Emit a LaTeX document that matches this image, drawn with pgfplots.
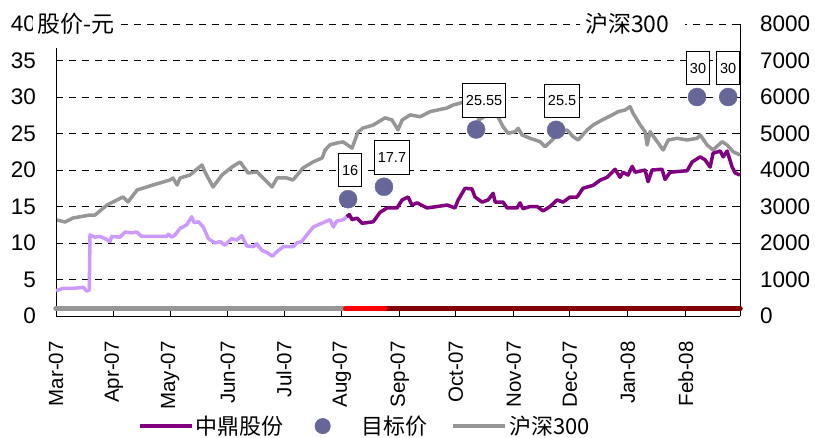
\documentclass[border=0pt]{standalone}
\usepackage{pgfplots}
\pgfplotsset{compat=1.18}
\usepackage{pgfplotstable}
\usepackage{fontspec}
\setmainfont{Liberation Sans}
\newfontfamily\cjk{Noto Sans CJK SC}
\definecolor{hsgray}{RGB}{150,150,150}
\definecolor{lpurple}{RGB}{204,153,255}
\definecolor{dpurple}{RGB}{128,0,128}
\definecolor{tgt}{RGB}{102,102,153}
\definecolor{dred}{RGB}{128,0,0}
\pgfplotsset{
  base/.style={scale only axis, width=684pt, height=292pt, at={(56pt,121pt)}, anchor=south west,
    xmin=0, xmax=366, clip=false, tick align=inside, major tick length=5pt,
    axis line style={-, line width=0.9pt, black}, tick style={line width=0.9pt, black},
    /pgf/number format/assume math mode=true, /pgf/number format/1000 sep={}, scaled y ticks=false},
  lineleg/.style={legend image code/.code={\draw[##1, line cap=butt] (0pt,0pt) -- (52pt,0pt);}},
}
\pgfplotstableread{
x y lab dx
156.3 16 16 2
175.5 17.7 17.7 8
224.8 25.55 25.55 8
267.6 25.5 25.5 6
343 30 30 1
359.7 30 30 0
}\targets
\begin{document}
\begin{tikzpicture}
\useasboundingbox (0,0) rectangle (815pt,437pt);
\begin{axis}[base, ymin=0, ymax=8000, hide x axis, axis y line*=right, ytick={0,1000,...,8000},
  ymajorgrids, grid style={black, line width=0.8pt, dash pattern=on 6.5pt off 6.5pt},
  yticklabel style={font=\fontsize{22.5}{26}\selectfont, inner sep=0pt, anchor=west}, yticklabel shift=20pt]
\addplot[hsgray, line width=3.5pt, line join=round] coordinates {
(0.5,2630) (4.8,2576) (9.1,2685) (18.2,2767) (20.9,2767) (27.3,3041) (35.9,3261) (38.5,3124)
(43.4,3452) (51.9,3589) (61,3726) (62.6,3781) (64.8,3589) (66.4,3781) (71.7,3863) (78.1,4137)
(79.7,3946) (84,3535) (88.8,3863) (92.1,4000) (94.2,4083) (98.5,4220) (102.8,3918) (107.6,3946)
(110.8,3781) (115.6,3535) (118.3,3781) (123.6,3781) (126.8,3726) (132.2,4055) (137.5,4220)
(142.4,4329) (144,4548) (146.6,4690) (150.4,4740) (153.6,4770) (158.4,4600) (161.6,5040) (164.3,5150)
(169.7,5230) (176.1,5430) (179.8,5370) (183,5100) (185.2,5370) (189.5,5510) (194.8,5460)
(200.2,5600) (209.3,5700) (212.5,5780) (218.9,5870) (222.6,5950) (225.3,5550) (226.3,5370)
(229.6,5480) (232.3,5550) (236,5507) (239.2,5187) (241.9,5005) (245.7,5050) (247.3,5142)
(249.4,4959) (253.7,4868) (256.4,4822) (259,4776) (261.7,4639) (265.5,4822) (269.7,5050)
(273.5,5096) (276.7,4913) (279.4,4822) (284.2,5096) (287.4,5233) (292.2,5370) (297.6,5507)
(300.8,5598) (304.5,5644) (307.2,5735) (308.8,5553) (312.6,5233) (315.2,5050) (316.3,4685)
(317.9,5050) (321.7,4776) (324.9,4548) (327.6,4822) (332.4,4868) (337.7,4822) (343.1,4868)
(344.7,4959) (348.4,4685) (351.6,4548) (356.4,4776) (359.1,4685) (362.3,4502) (366,4411)
};
\end{axis}
\begin{axis}[base, ymin=0, ymax=40, axis x line*=bottom, axis y line*=left, ytick={0,5,...,40},
  xtick={0,31,61,92,122,153,184,214,245,275,306,337,366},
  xticklabels={Mar-07,Apr-07,May-07,Jun-07,Jul-07,Aug-07,Sep-07,Oct-07,Nov-07,Dec-07,Jan-08,Feb-08,{}},
  xticklabel style={rotate=90, anchor=east, inner sep=0pt, font=\fontsize{20.5}{24}\selectfont}, xticklabel shift=25pt,
  yticklabel style={font=\fontsize{22.5}{26}\selectfont, inner sep=0pt, anchor=east}, yticklabel shift=20pt,
  legend style={at={(0.1199,-0.377)}, anchor=west, draw=none, fill=none, inner sep=0pt,
    font=\cjk\fontsize{22}{26}\selectfont,
    /tikz/every even column/.append style={column sep=22pt},
    /tikz/column 4/.append style={column sep=31pt}},
  legend columns=3]
\addplot[hsgray, line width=5.5pt, line cap=round, forget plot] coordinates {(0,1) (155,1)};
\addplot[dred, line width=5.5pt, line cap=round, forget plot] coordinates {(176,1) (366,1)};
\addplot[red, line width=5.5pt, line cap=round, forget plot] coordinates {(155,1) (176,1)};
\addplot[lpurple, line width=3.5pt, line join=round, forget plot] coordinates {
(0,3.47) (3.9,3.79) (9.3,3.79) (14.6,3.93) (16.4,3.42) (17.8,3.56) (18.2,11.1) (20.9,10.8) (23.5,10.9)
(26.2,10.6) (28.9,10.2) (29.8,10.9) (34.3,10.8) (36.9,11.5) (40.5,11.4) (43.2,11.5) (45.9,10.9)
(52.1,10.9) (59.2,10.9) (60.1,11.2) (61.9,10.8) (63.7,11.1) (66.4,12.0) (70,12.5) (72.6,13.6)
(73.9,12.8) (76.2,12.9) (78.8,12.2) (81.5,10.6) (85.1,10.0) (87.8,10.2) (90.4,9.7) (94,10.6)
(96.7,10.4) (99.4,11.0) (102.1,9.6) (105.6,9.5) (107.4,9.9) (110.1,9.0) (112.8,8.7) (115.8,8.2)
(118.1,8.8) (121.6,9.5) (127,9.5) (128.8,10.0) (131.5,10.2) (134.2,11.1) (137.7,12.2) (141.3,12.6)
(143.9,12.9) (146.6,13.2) (148.4,12.2) (150.2,13.0) (153.8,13.2) (155.6,13.6)
};
\addplot[dpurple, line width=3.5pt, line join=round, lineleg] coordinates {
(155.6,13.6) (157,13.9) (158.4,13.2) (161.1,13.4) (163.8,12.7) (169.7,12.9) (173.4,14.2) (177.1,14.8)
(182.5,14.8) (185.2,15.9) (188.4,16.3) (190.5,15.2) (193.2,15.5) (198.6,14.8) (209.3,15.2) (213.5,14.8)
(215.2,15.9) (218.9,17.5) (222.6,17.4) (224.2,16.3) (228,15.6) (231.2,15.9) (233.9,16.8) (235,15.6)
(239.2,15.6) (241.4,14.8) (246.7,14.8) (248.3,15.5) (249.9,14.7) (253.7,15.0) (257.4,15.0) (260.6,14.4)
(264.4,15.0) (268.1,15.9) (271.3,15.6) (275.1,16.3) (278.8,16.3) (282,17.5) (287.4,17.9) (291.1,18.6)
(294.9,19.0) (299.2,20.1) (301.8,19.0) (303.4,19.7) (306.1,19.3) (308.3,20.5) (309.9,19.7) (315.2,20.0)
(316.8,18.4) (319,20.0) (324.3,20.1) (325.9,18.7) (328.6,19.7) (337.7,19.9) (340.4,21.1) (344.7,21.8)
(347.3,21.4) (350,20.4) (351.6,22.3) (355.4,22.6) (357,21.8) (359.1,22.6) (361.8,20.4) (363.4,19.6) (366,19.3)
};
\addlegendentry{中鼎股份}
\addplot[only marks, mark=*, mark size=9pt, color=tgt, forget plot, nodes near coords,
  point meta=explicit symbolic, visualization depends on={\thisrow{dx} \as \dx},
  every node near coord/.append style={draw=black, fill=white, text=black, line width=0.8pt,
    font=\fontsize{14.5}{16}\selectfont, text height=10.5pt, text depth=0pt, inner ysep=11.5pt,
    inner xsep=3.5pt, anchor=south, xshift=\dx pt, yshift=12pt}]
  table[x=x, y=y, meta=lab] {\targets};
\addlegendimage{legend image code/.code={\path[draw=none, fill=none] (0pt,0pt) -- (52pt,0pt); \fill[tgt, draw=none] (15pt,0pt) circle (8pt);}}
\addlegendentry{目标价}
\addlegendimage{hsgray, line width=3.5pt, lineleg}
\addlegendentry{沪深300}
\end{axis}
\fill[white] (33pt,389pt) rectangle (120pt,437pt);
\node[anchor=west, inner sep=0pt, font=\cjk\fontsize{23}{27}\selectfont] at (37pt,413pt) {股价-元};
\fill[white] (580pt,389pt) rectangle (685pt,437pt);
\node[anchor=west, inner sep=0pt, font=\cjk\fontsize{23}{27}\selectfont] at (585pt,413pt) {沪深300};
\end{tikzpicture}
\end{document}
